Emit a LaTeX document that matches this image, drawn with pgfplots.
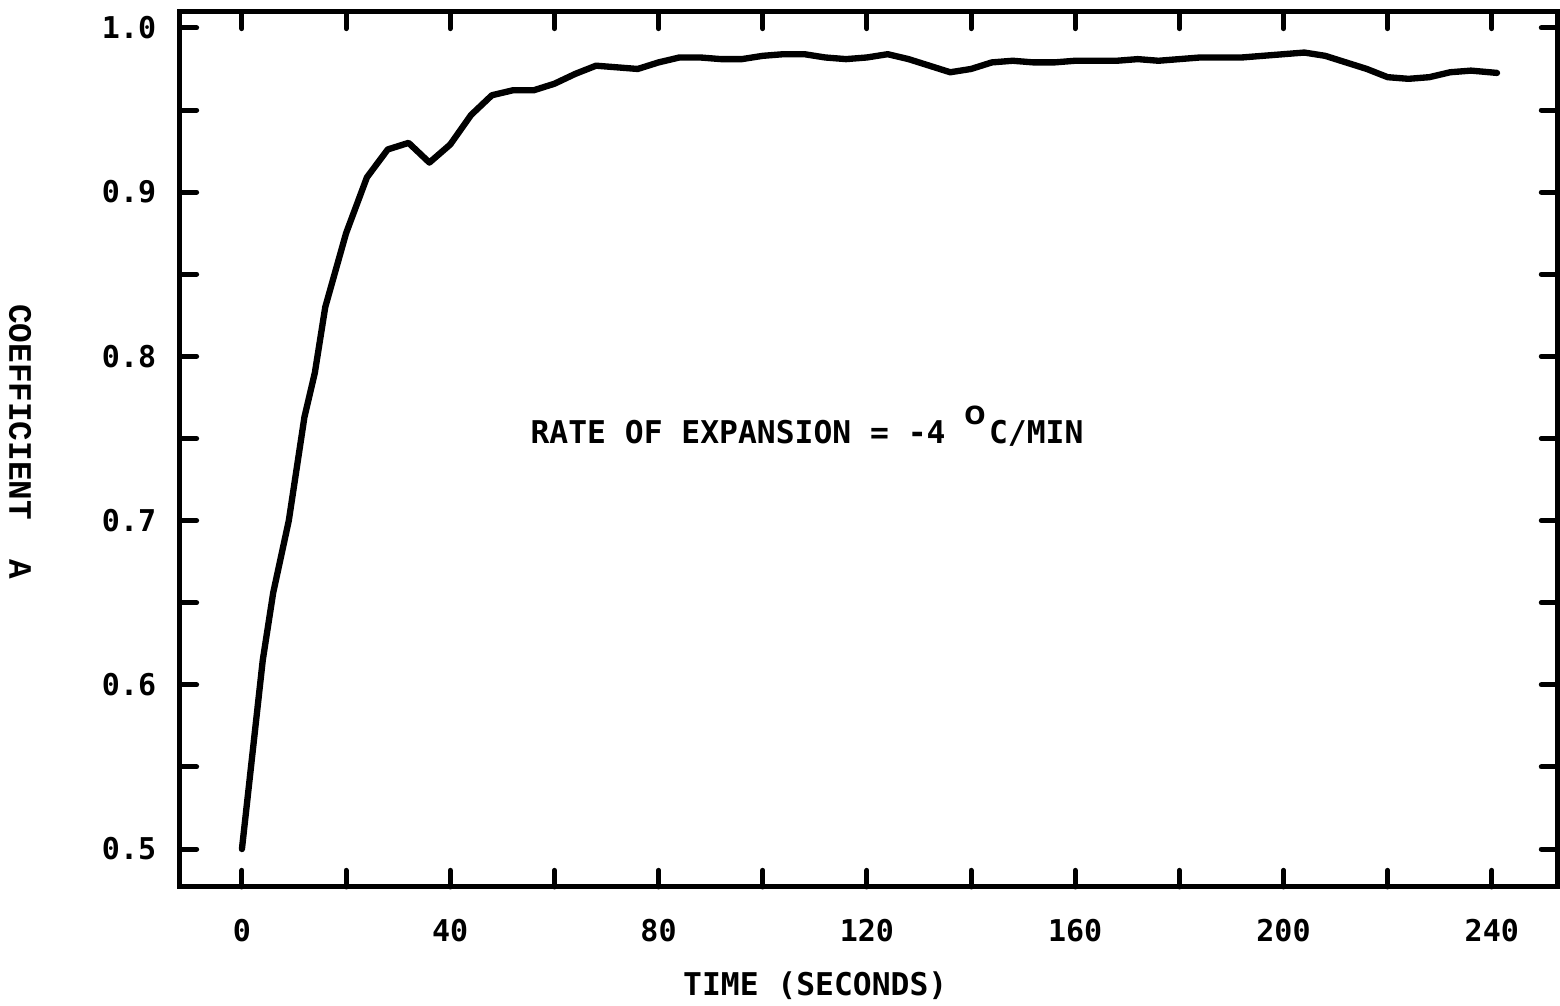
\documentclass[border=0pt]{standalone}
\usepackage{fontspec}
\usepackage{pgfplots}
\pgfplotsset{compat=1.18}
\newfontfamily\plotfont{DejaVu Sans Mono}
\newfontfamily\degfont{DejaVu Sans}
\newfontfamily\labfont{Liberation Mono}

% coefficient A against time
\pgfplotstableread{
t v
0 0.500
4 0.615
6 0.656
9 0.700
12 0.763
14 0.790
16 0.830
20 0.875
24 0.909
28 0.926
32 0.930
36 0.918
40 0.929
44 0.947
48 0.959
52 0.962
56 0.962
60 0.966
64 0.972
68 0.977
72 0.976
76 0.975
80 0.979
84 0.982
88 0.982
92 0.981
96 0.981
100 0.983
104 0.984
108 0.984
112 0.982
116 0.981
120 0.982
124 0.984
128 0.981
132 0.977
136 0.973
140 0.975
144 0.979
148 0.980
152 0.979
156 0.979
160 0.980
164 0.980
168 0.980
172 0.981
176 0.980
180 0.981
184 0.982
188 0.982
192 0.982
196 0.983
200 0.984
204 0.985
208 0.983
212 0.979
216 0.975
220 0.970
224 0.969
228 0.970
232 0.973
236 0.974
241 0.9726
}\coeffdata

\begin{document}
\begin{tikzpicture}
\begin{axis}[
  scale only axis,
  width=413.4pt, height=262.5pt,
  xmin=-11.9, xmax=252.7,
  ymin=0.4769, ymax=1.0097,
  clip=false,
  axis line style={line width=1.5pt, line cap=round},
  every tick/.style={black, line width=1.5pt, line cap=round},
  major tick length=5pt,
  tick align=inside,
  tick pos=both,
  xticklabel pos=bottom, yticklabel pos=left,
  /pgf/number format/assume math mode=true,
  xtick={0,20,40,60,80,100,120,140,160,180,200,220,240},
  xticklabels={0,,40,,80,,120,,160,,200,,240},
  ytick={0.5,0.55,0.6,0.65,0.7,0.75,0.8,0.85,0.9,0.95,1.0},
  yticklabels={0.5,,0.6,,0.7,,0.8,,0.9,,1.0},
  tick label style={font=\plotfont\bfseries\fontsize{9}{10}\selectfont},
  xticklabel style={yshift=-6pt},
  yticklabel style={xshift=-3.6pt},
  xlabel={TIME (SECONDS)},
  xlabel style={font=\plotfont\bfseries\fontsize{9.4}{11}\selectfont,
    at={(axis description cs:0.461,-0.113)}, anchor=center},
  ylabel={COEFFICIENT\ \ A},
  ylabel style={font=\labfont\bfseries\fontsize{9.8}{11}\selectfont,
    at={(axis description cs:-0.116,0.509)}, anchor=center, rotate=180},
]
\addplot[black, line width=1.9pt, line join=round, line cap=round] table[x=t, y=v] {\coeffdata};

\node[anchor=west, inner sep=0pt, font=\plotfont\bfseries\fontsize{9.4}{11}\selectfont]
  at (axis cs:55.3,0.7576)
  {RATE OF EXPANSION = -4 \raisebox{1.1ex}{\degfont\fontsize{7.5}{9}\selectfont O}\kern1pt C/MIN};

\coordinate (bbsw) at (axis description cs:-0.1306,-0.1349);
\coordinate (bbne) at (axis description cs:1.0015,1.0137);
\end{axis}
\pgfresetboundingbox
\path (bbsw) rectangle (bbne);
\end{tikzpicture}
\end{document}
